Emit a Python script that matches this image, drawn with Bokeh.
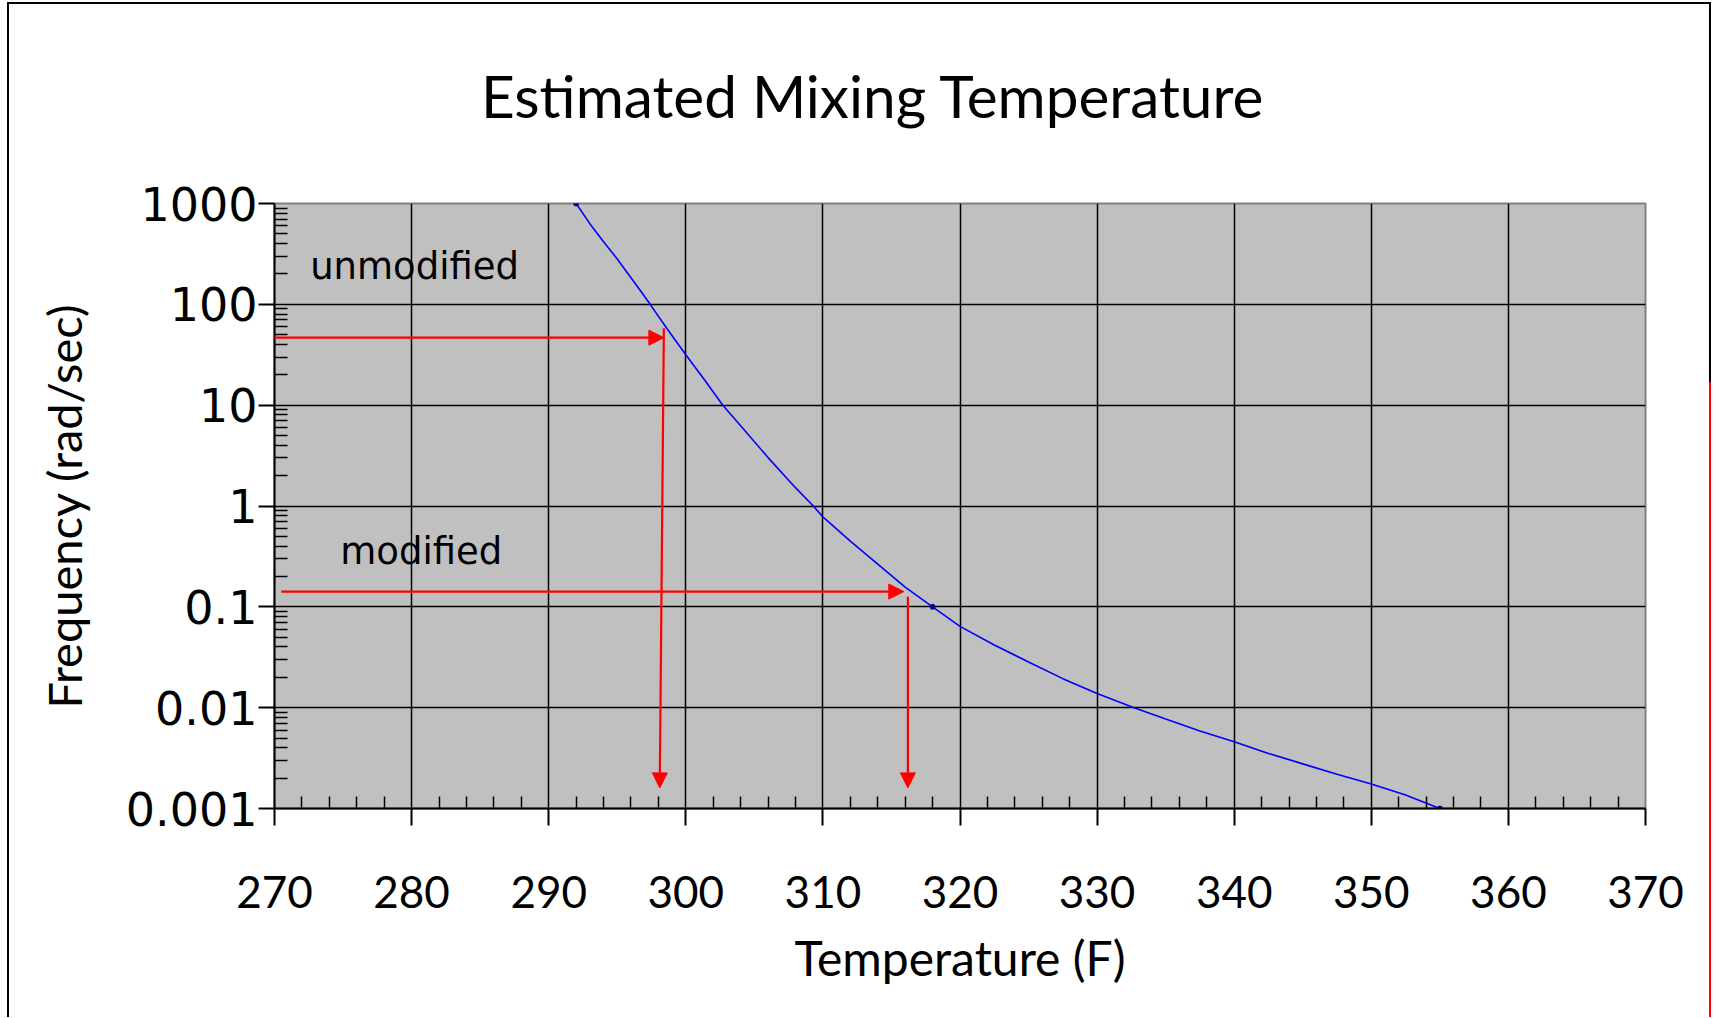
from bokeh.plotting import figure
from bokeh.models import (Range1d, FixedTicker, CustomJSTickFormatter, Arrow, NormalHead,
                          Label, Div)
from bokeh.layouts import column, row
from bokeh.embed import file_html
from bokeh.resources import INLINE
from bokeh.core.properties import value

# ---------------- data ----------------
curve_temp = [292.0, 293.0, 294.0, 295.0, 296.6, 297.4, 298.7, 300.0, 301.4, 302.7,
              304.0, 306.0, 308.0, 309.3, 310.0, 312.0, 314.0, 316.0, 318.0, 320.0,
              322.5, 325.0, 327.5, 330.0, 332.7, 335.0, 337.5, 340.0, 342.5, 345.0,
              347.5, 350.0, 352.5, 355.0]
curve_freq = [1000, 631, 417, 282, 142, 100, 55.6, 31.6, 17.6, 10,
              6.25, 3.02, 1.52, 1.0, 0.78, 0.448, 0.265, 0.157, 0.1, 0.064,
              0.0418, 0.0284, 0.0194, 0.0138, 0.01, 0.00773, 0.00588, 0.00458, 0.00352, 0.00277,
              0.00219, 0.00175, 0.00136, 0.001]

point_temp = [292.0, 318.0, 355.0]
point_freq = [1000, 0.1, 0.001]

x_ticks = [270, 280, 290, 300, 310, 320, 330, 340, 350, 360, 370]
x_tick_labels = ["270", "280", "290", "300", "310", "320", "330", "340", "350", "360", "370"]
y_ticks = [0.001, 0.01, 0.1, 1, 10, 100, 1000]
y_tick_labels = ["0.001", "0.01", "0.1", "1", "10", "100", "1000"]

# red reading arrows: unmodified horizontal, unmodified vertical, modified horizontal, modified vertical
arrow_x_start = [269.9, 298.4, 270.5, 316.2]
arrow_y_start = [46.7, 58.0, 0.1416, 0.126]
arrow_x_end = [298.4, 298.1, 315.9, 316.2]
arrow_y_end = [46.7, 0.0016, 0.1416, 0.0016]

note_text = ["unmodified", "modified"]
note_temp = [272.6, 274.8]
note_freq = [235.0, 0.352]

title_text = "Estimated Mixing Temperature"
x_title = "Temperature (F)"
y_title = "Frequency (rad/sec)"

# ---------------- title strip ----------------
P_W = 1700
T_H = 150
P_H = 863
t = figure(width=P_W, height=T_H, x_range=Range1d(0, 1), y_range=Range1d(0, 1),
           x_axis_location=None, y_axis_location=None,
           output_backend="svg", toolbar_location=None,
           min_border=0, outline_line_color=None,
           background_fill_color="white", border_fill_color="white")
t.xgrid.visible = False
t.ygrid.visible = False
t.text(x=[0.4366], y=[0.40], text=[title_text],
       text_font=value("Lato"), text_font_size=value("58.5px"), text_color="black",
       text_align="center", text_baseline="middle")

# ---------------- main figure ----------------
p = figure(width=P_W, height=P_H,
           x_range=Range1d(270, 370), y_range=Range1d(0.001, 1000),
           y_axis_type="log",
           output_backend="svg", toolbar_location=None,
           min_border_left=265, min_border_right=64,
           min_border_top=49, min_border_bottom=209,
           background_fill_color="#C0C0C0", border_fill_color="white",
           outline_line_color="#808080", outline_line_width=2)

fmt_code = ("const i = tvals.findIndex(t => Math.abs(t - tick) < 1e-9 * Math.max(1, t));"
            " return i >= 0 ? tlabels[i] : '';")

# x axis
x_minor = [v for v in range(x_ticks[0], x_ticks[-1] + 1, 2) if v % 10 != 0]
xa = p.xaxis[0]
xa.ticker = FixedTicker(ticks=x_ticks, minor_ticks=x_minor)
xa.formatter = CustomJSTickFormatter(args=dict(tvals=x_ticks, tlabels=x_tick_labels), code=fmt_code)
xa.axis_label = x_title
xa.axis_label_text_font = "Lato"
xa.axis_label_text_font_size = "48px"
xa.axis_label_text_font_style = "normal"
xa.axis_label_text_color = "black"
xa.axis_label_standoff = 18
xa.major_label_text_font = "Lato"
xa.major_label_text_font_size = "44px"
xa.major_label_text_color = "black"
xa.major_label_standoff = 50
xa.axis_line_color = "black"
xa.axis_line_width = 2
xa.major_tick_out = 17
xa.major_tick_in = 0
xa.major_tick_line_color = "black"
xa.major_tick_line_width = 2
xa.minor_tick_in = 12
xa.minor_tick_out = 0
xa.minor_tick_line_color = "black"
xa.minor_tick_line_width = 1.5

# y axis (log)
y_minor = [m * d for d in y_ticks[:-1] for m in range(2, 10)]
ya = p.yaxis[0]
ya.ticker = FixedTicker(ticks=y_ticks, minor_ticks=y_minor)
ya.formatter = CustomJSTickFormatter(args=dict(tvals=y_ticks, tlabels=y_tick_labels), code=fmt_code)
ya.axis_label = y_title
ya.axis_label_text_font = "Lato"
ya.axis_label_text_font_size = "47px"
ya.axis_label_text_font_style = "normal"
ya.axis_label_text_color = "black"
ya.axis_label_standoff = 31
ya.major_label_text_font = "DejaVu Sans"
ya.major_label_text_font_size = "46px"
ya.major_label_text_color = "black"
ya.major_label_standoff = 1
ya.axis_line_color = "black"
ya.axis_line_width = 2
ya.major_tick_out = 16
ya.major_tick_in = 0
ya.major_tick_line_color = "black"
ya.major_tick_line_width = 2
ya.minor_tick_in = 13
ya.minor_tick_out = 0
ya.minor_tick_line_color = "black"
ya.minor_tick_line_width = 1.5

# grids
p.xgrid.ticker = FixedTicker(ticks=x_ticks)
p.xgrid.grid_line_color = "black"
p.xgrid.grid_line_width = 1.5
p.ygrid.grid_line_color = "black"
p.ygrid.grid_line_width = 1.5

# curve + points
p.line(curve_temp, curve_freq, line_color="#0000FF", line_width=1.6)
p.scatter(point_temp, point_freq, size=5, fill_color="#000080", line_color="#000080")

# arrows
for xs, ys, xe, ye in zip(arrow_x_start, arrow_y_start, arrow_x_end, arrow_y_end):
    p.add_layout(Arrow(x_start=xs, y_start=ys, x_end=xe, y_end=ye,
                       line_color="#FF0000", line_width=2.2,
                       end=NormalHead(size=15, fill_color="#FF0000",
                                      line_color="#FF0000", line_width=1)))

# notes
for txt, x, y in zip(note_text, note_temp, note_freq):
    p.add_layout(Label(x=x, y=y, text=txt, text_font="DejaVu Sans", text_font_size="37px",
                       text_color="black", text_baseline="middle", text_align="left"))

# outer frame of the chart (top / left black, right black then red)
FULL_H = T_H + P_H
top_gap = Div(width=1711, height=2, margin=0)
top_border = Div(width=1704, height=2, margin=(0, 0, 0, 7), styles={"background": "black"})
left_gap = Div(width=7, height=FULL_H, margin=0)
left_border = Div(width=2, height=FULL_H, margin=0, styles={"background": "black"})
right_border = Div(width=2, height=FULL_H, margin=0,
                   styles={"background": "linear-gradient(to bottom, black 0px, black 378px, red 378px, red 100%)"})

layout = column(top_gap, top_border,
                row(left_gap, left_border, column(t, p, spacing=0), right_border, spacing=0),
                spacing=0)

open("out.html", "w").write(file_html(layout, INLINE))
